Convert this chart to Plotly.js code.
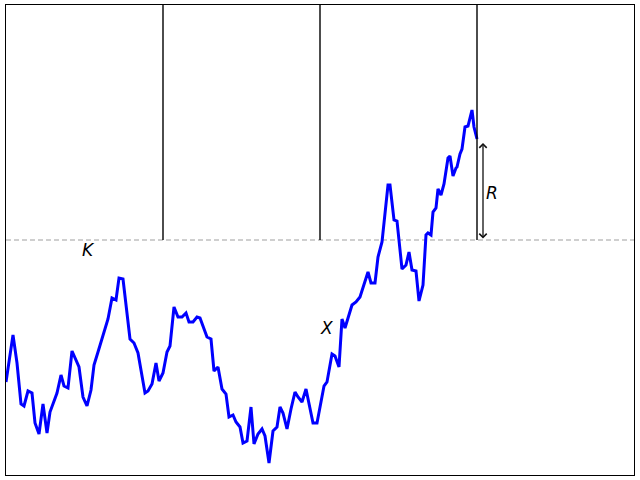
<!DOCTYPE html>
<html>
<head>
<meta charset="utf-8">
<script src="https://cdn.plot.ly/plotly-3.0.1.min.js"></script>
<style>html,body{margin:0;padding:0;background:#fff;}#chart{width:640px;height:480px;}</style>
</head>
<body>
<div id="chart"></div>
<script>
// time steps and path values
var steps = [0,7,11,15,18,22,26,29,33,37,41,44,51,55,58,62,66,73,77,81,85,88,92,99,102,106,110,113,117,124,128,132,136,139,142,146,150,153,157,161,164,168,172,176,180,183,187,191,194,201,205,208,212,216,220,223,227,230,234,237,241,245,248,252,256,259,263,267,271,274,277,281,285,289,292,296,300,304,307,311,314,318,321,326,329,333,336,339,346,350,354,357,362,365,369,372,376,382,384,388,391,396,400,403,406,410,413,417,420,422,425,427,430,432,435,438,442,444,447,450,451,454,456,459,462,466,468,471];
var values = [-142,-95,-123,-164,-166,-151,-153,-183,-194,-164,-193,-172,-153,-135,-146,-148,-111,-127,-157,-166,-150,-125,-112,-87,-79,-58,-60,-38,-39,-99,-103,-113,-137,-153,-151,-144,-123,-141,-133,-112,-106,-67,-77,-77,-73,-82,-82,-77,-78,-97,-99,-131,-127,-149,-154,-177,-175,-182,-187,-203,-201,-167,-204,-194,-189,-196,-223,-191,-187,-167,-173,-189,-169,-152,-157,-162,-149,-167,-183,-183,-168,-146,-142,-114,-116,-127,-79,-88,-65,-62,-57,-47,-32,-43,-43,-17,-2,55,55,20,19,-29,-25,-12,-30,-31,-61,-45,5,7,5,28,32,51,45,56,82,84,64,72,73,86,91,113,114,130,113,101];
var barrierLevel = 0;
var dividers = [157, 314, 471];
var rangeTop = 97;
var labels = ["K", "X", "R"];
var labelX = [82, 320, 486];
var labelY = [-10, -88, 47];

var shapes = [];
shapes.push({type:'line', xref:'paper', yref:'y', x0:0, x1:1, y0:barrierLevel, y1:barrierLevel,
  line:{color:'#a0a0a0', width:1.2, dash:'5px,3px'}, layer:'below'});
dividers.forEach(function(d){
  shapes.push({type:'line', xref:'x', yref:'paper', x0:d, x1:d, y0:0.5, y1:1,
    line:{color:'#000', width:1.4}});
});

var annotations = labels.map(function(t,i){
  return {x:labelX[i], y:labelY[i], xref:'x', yref:'y', text:'<i>'+t+'</i>', showarrow:false,
    font:{family:'DejaVu Sans', size:17, color:'#000'}};
});
annotations.push({x:dividers[2]+6, y:rangeTop, ax:dividers[2]+6, ay:barrierLevel, xref:'x', yref:'y', axref:'x', ayref:'y',
  text:'', showarrow:true, arrowhead:4, startarrowhead:4, arrowside:'end+start', arrowsize:1.1, startarrowsize:1.1, arrowwidth:1.3, arrowcolor:'#111'});

var trace = {x:steps, y:values, type:'scatter', mode:'lines', line:{color:'#0000ff', width:3}, hoverinfo:'skip'};

var layout = {
  width:640, height:480,
  margin:{l:6, r:6, t:5, b:5, pad:0},
  paper_bgcolor:'#fff', plot_bgcolor:'#fff',
  showlegend:false,
  xaxis:{range:[0,628], showgrid:false, zeroline:false, showticklabels:false, ticks:'', showline:true, mirror:true, linecolor:'#000', linewidth:1.2},
  yaxis:{range:[-235,235], showgrid:false, zeroline:false, showticklabels:false, ticks:'', showline:true, mirror:true, linecolor:'#000', linewidth:1.2},
  shapes:shapes,
  annotations:annotations
};
Plotly.newPlot('chart', [trace], layout, {staticPlot:true, displayModeBar:false});
</script>
</body>
</html>
